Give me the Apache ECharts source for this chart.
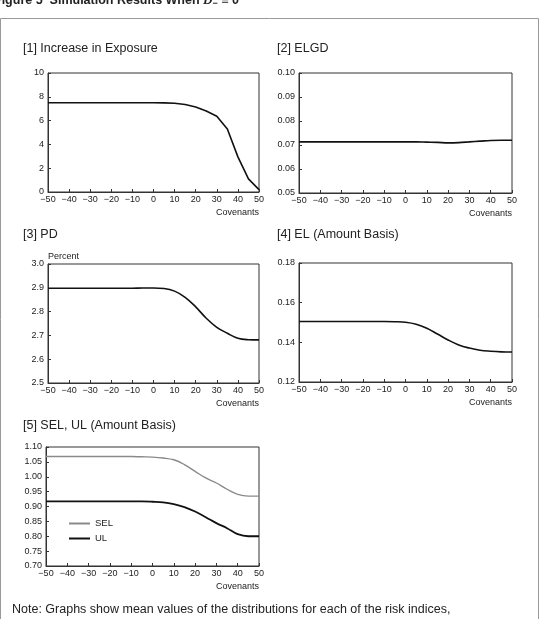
<!DOCTYPE html>
<html>
<head>
<meta charset="utf-8">
<style>
html, body {margin: 0; padding: 0; background: #fff;}
#main {width: 543px; height: 619px;}
</style>
<script src="https://cdn.jsdelivr.net/npm/echarts@6/dist/echarts.min.js"></script>
</head>
<body>
<div id="main"></div>
<script>
// covenants, -50 .. 50 step 5
var covenants = [-50, -45, -40, -35, -30, -25, -20, -15, -10, -5, 0, 5, 10, 15, 20, 25, 30, 35, 40, 45, 50];

var exposure = [7.5, 7.5, 7.5, 7.5, 7.5, 7.5, 7.5, 7.5, 7.5, 7.5, 7.5, 7.49, 7.46, 7.35, 7.14, 6.8, 6.36, 5.3, 2.95, 1.1, 0.2];
var elgd = [0.0713, 0.0713, 0.0713, 0.0713, 0.0713, 0.0713, 0.0713, 0.0713, 0.0713, 0.0713, 0.0713, 0.0713, 0.0712, 0.0711, 0.0709, 0.0710, 0.0713, 0.0716, 0.0719, 0.0720, 0.0720];
var pd = [2.898, 2.898, 2.898, 2.898, 2.898, 2.898, 2.898, 2.898, 2.898, 2.899, 2.899, 2.897, 2.886, 2.86, 2.82, 2.772, 2.734, 2.709, 2.688, 2.682, 2.681];
var el = [0.1505, 0.1505, 0.1505, 0.1505, 0.1505, 0.1505, 0.1505, 0.1505, 0.1505, 0.1504, 0.1501, 0.1491, 0.1471, 0.1442, 0.1412, 0.1387, 0.1371, 0.1360, 0.1355, 0.1352, 0.1351];
var sel = [1.068, 1.068, 1.068, 1.068, 1.068, 1.068, 1.068, 1.068, 1.068, 1.067, 1.066, 1.063, 1.057, 1.041, 1.018, 0.996, 0.979, 0.958, 0.941, 0.935, 0.935];
var ul = [0.917, 0.917, 0.917, 0.917, 0.917, 0.917, 0.917, 0.917, 0.917, 0.917, 0.916, 0.914, 0.908, 0.898, 0.883, 0.864, 0.844, 0.827, 0.807, 0.800, 0.800];

var panelTitles = ['[1] Increase in Exposure', '[2] ELGD', '[3] PD', '[4] EL (Amount Basis)', '[5] SEL, UL (Amount Basis)'];
var yMins = [0, 0.05, 2.5, 0.12, 0.70];
var yMaxs = [10, 0.10, 3.0, 0.18, 1.10];
var yIntervals = [2, 0.01, 0.1, 0.02, 0.05];
var yDecimals = [0, 2, 1, 2, 2];

function pairs(ys) {
    var out = [];
    for (var i = 0; i < covenants.length; i++) {
        out.push([covenants[i], ys[i]]);
    }
    return out;
}

var font = 'Liberation Sans, Arial, sans-serif';
var axisColor = '#333';

var grids = [
    {left: 48, top: 73, width: 211, height: 119},
    {left: 299, top: 73, width: 213, height: 120},
    {left: 48, top: 264, width: 211, height: 119},
    {left: 299, top: 263, width: 213, height: 119},
    {left: 46, top: 447, width: 213, height: 119}
];

var xAxes = [], yAxes = [];
for (var g = 0; g < grids.length; g++) {
    grids[g].show = true;
    grids[g].borderColor = axisColor;
    grids[g].borderWidth = 1;
    xAxes.push({
        type: 'value', gridIndex: g, min: -50, max: 50, interval: 10,
        axisLine: {onZero: false, lineStyle: {color: axisColor}},
        axisTick: {inside: true, length: 3, lineStyle: {color: axisColor}},
        axisLabel: {
            color: '#222', fontSize: 9, fontFamily: font, margin: 3,
            formatter: function (v) { return String(v).replace('-', '\u2212'); }
        },
        splitLine: {show: false}
    });
    (function (d) {
        yAxes.push({
            type: 'value', gridIndex: g, min: yMins[g], max: yMaxs[g], interval: yIntervals[g],
            axisLine: {show: true, onZero: false, lineStyle: {color: axisColor}},
            axisTick: {show: true, inside: true, length: 3, lineStyle: {color: axisColor}},
            axisLabel: {
                color: '#222', fontSize: 9, fontFamily: font, margin: 4,
                formatter: function (v) { return v.toFixed(d); }
            },
            splitLine: {show: false}
        });
    })(yDecimals[g]);
}

function lineSeries(name, g, ys, color, width, smooth) {
    return {
        name: name, type: 'line', xAxisIndex: g, yAxisIndex: g,
        data: pairs(ys), symbol: 'none', smooth: smooth,
        lineStyle: {color: color, width: width},
        itemStyle: {color: color},
        silent: true
    };
}

var series = [
    lineSeries('Exposure', 0, exposure, '#111', 1.6, false),
    lineSeries('ELGD', 1, elgd, '#111', 1.6, 0.4),
    lineSeries('PD', 2, pd, '#111', 1.6, 0.4),
    lineSeries('EL', 3, el, '#111', 1.6, 0.4),
    lineSeries('SEL', 4, sel, '#8a8a8a', 1.4, 0.4),
    lineSeries('UL', 4, ul, '#111', 1.8, 0.4)
];

// panel titles and axis names
var titlePos = [[23, 49], [277, 49], [23, 235], [277, 235], [23, 426]];
var graphics = [
    {type: 'rect', shape: {x: 0.5, y: 18.5, width: 538, height: 700}, style: {fill: 'none', stroke: '#999', lineWidth: 1}},
    {
        type: 'text', x: -6, y: 8,
        style: {
            text: '{a|Figure 5  Simulation Results When }{d|D}{s|\u2212}{a| \u2261 0}',
            verticalAlign: 'bottom',
            rich: {
                a: {fontSize: 12.5, fontWeight: 'bold', fontFamily: font, fill: '#222'},
                d: {fontSize: 13, fontStyle: 'italic', fontWeight: 'bold', fontFamily: 'Liberation Serif, serif', fill: '#222'},
                s: {fontSize: 9, fontWeight: 'bold', fontFamily: font, fill: '#222', padding: [6, 0, 0, 0]}
            }
        }
    },
    {
        type: 'text', x: 12, y: 610,
        style: {text: 'Note: Graphs show mean values of the distributions for each of the risk indices,', fontSize: 12.5, fontFamily: font, fill: '#222', verticalAlign: 'middle'}
    },
    {
        type: 'text', x: 48, y: 257,
        style: {text: 'Percent', fontSize: 9, fontFamily: font, fill: '#222', verticalAlign: 'middle'}
    }
];
for (var t = 0; t < panelTitles.length; t++) {
    graphics.push({
        type: 'text', x: titlePos[t][0], y: titlePos[t][1],
        style: {text: panelTitles[t], fontSize: 12.5, fontFamily: font, fill: '#222', verticalAlign: 'middle'}
    });
    graphics.push({
        type: 'text', x: grids[t].left + grids[t].width, y: grids[t].top + grids[t].height + 21,
        style: {text: 'Covenants', fontSize: 9, fontFamily: font, fill: '#222', align: 'right', verticalAlign: 'middle'}
    });
}

var chart = echarts.init(document.getElementById('main'), null, {renderer: 'canvas'});
chart.setOption({
    animation: false,
    backgroundColor: '#fff',
    grid: grids,
    xAxis: xAxes,
    yAxis: yAxes,
    series: series,
    legend: {
        data: [
            {name: 'SEL', icon: 'rect', itemStyle: {color: '#8a8a8a'}},
            {name: 'UL', icon: 'rect', itemStyle: {color: '#111'}}
        ],
        orient: 'vertical',
        left: 64, top: 513,
        itemWidth: 21, itemHeight: 2, itemGap: 4,
        textStyle: {fontSize: 9.5, fontFamily: font, color: '#222', lineHeight: 11}
    },
    graphic: graphics
});
</script>
</body>
</html>
